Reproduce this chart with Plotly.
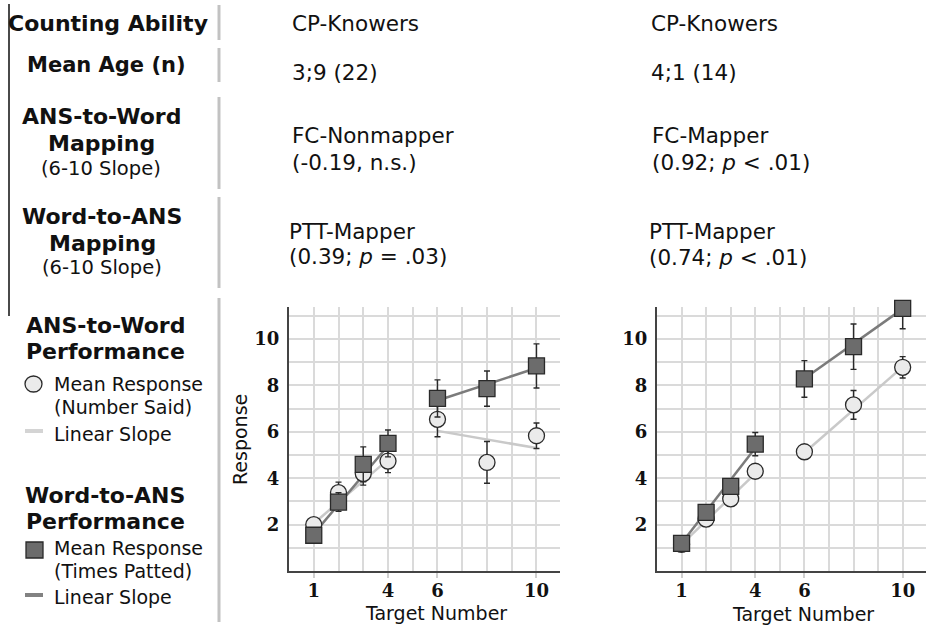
import plotly.graph_objects as go

W, H = 926, 627

# ---------------- data ----------------
x_pts = [1, 2, 3, 4, 6, 8, 10]

# Left group: CP-Knowers 3;9 (22)
L_circ = [2.0, 3.38, 4.2, 4.74, 6.54, 4.68, 5.83]
L_circ_err = [0.12, 0.45, 0.5, 0.5, 0.75, 0.9, 0.55]
L_sq = [1.54, 2.97, 4.6, 5.5, 7.44, 7.86, 8.84]
L_sq_err = [0.2, 0.4, 0.75, 0.58, 0.8, 0.76, 0.95]

# Right group: CP-Knowers 4;1 (14)
R_circ = [1.15, 2.24, 3.11, 4.3, 5.14, 7.16, 8.78]
R_circ_err = [0.1, 0.12, 0.12, 0.15, 0.3, 0.62, 0.46]
R_sq = [1.19, 2.53, 3.65, 5.47, 8.28, 9.67, 11.32]
R_sq_err = [0.12, 0.2, 0.2, 0.5, 0.79, 0.98, 0.88]

# Linear slope segments (endpoints)
fit_x_low = [1, 4]
fit_x_high = [6, 10]
L_circ_fit_low = [2.05, 4.8]
L_circ_fit_high = [6.04, 5.3]
L_sq_fit_low = [1.6, 5.4]
L_sq_fit_high = [7.35, 8.75]
R_circ_fit_low = [1.15, 4.2]
R_circ_fit_high = [5.1, 8.8]
R_sq_fit_low = [1.2, 5.3]
R_sq_fit_high = [8.3, 11.3]

x_ticks = [1, 4, 6, 10]
y_ticks = [2, 4, 6, 8, 10]

# ---------------- styles ----------------
CIRC_FILL = "#ebebeb"
SQ_FILL = "#6c6c6c"
EDGE = "#2a2a2a"
LIGHT_LINE = "#c9c9c9"
DARK_LINE = "#7b7b7b"
GRID = "#dadada"
SANS = "DejaVu Sans"


def px(x):
    return x / W


def py(y):
    return 1 - y / H


fig = go.Figure()


def add_panel(xa, ya, circ, circ_err, sq, sq_err, cfl, cfh, sfl, sfh):
    for xs, ys in [(fit_x_low, cfl), (fit_x_high, cfh)]:
        fig.add_trace(go.Scatter(x=xs, y=ys, mode="lines", xaxis=xa, yaxis=ya,
                                 line=dict(color=LIGHT_LINE, width=2.5),
                                 showlegend=False, hoverinfo="skip", cliponaxis=False))
    for xs, ys in [(fit_x_low, sfl), (fit_x_high, sfh)]:
        fig.add_trace(go.Scatter(x=xs, y=ys, mode="lines", xaxis=xa, yaxis=ya,
                                 line=dict(color=DARK_LINE, width=2.5),
                                 showlegend=False, hoverinfo="skip", cliponaxis=False))
    fig.add_trace(go.Scatter(
        x=x_pts, y=circ, mode="markers", xaxis=xa, yaxis=ya, cliponaxis=False,
        error_y=dict(type="data", array=circ_err, color=EDGE, thickness=1.4, width=3),
        marker=dict(symbol="circle", size=16, color=CIRC_FILL,
                    line=dict(color=EDGE, width=1.3)),
        showlegend=False))
    fig.add_trace(go.Scatter(
        x=x_pts, y=sq, mode="markers", xaxis=xa, yaxis=ya, cliponaxis=False,
        error_y=dict(type="data", array=sq_err, color=EDGE, thickness=1.4, width=3),
        marker=dict(symbol="square", size=16, color=SQ_FILL,
                    line=dict(color=EDGE, width=1.3)),
        showlegend=False))


add_panel("x", "y", L_circ, L_circ_err, L_sq, L_sq_err,
          L_circ_fit_low, L_circ_fit_high, L_sq_fit_low, L_sq_fit_high)
add_panel("x2", "y2", R_circ, R_circ_err, R_sq, R_sq_err,
          R_circ_fit_low, R_circ_fit_high, R_sq_fit_low, R_sq_fit_high)

tick_font = dict(family="DejaVu Serif", size=18, color="#111", weight="bold")


def xaxis_cfg(domain, anchor):
    return dict(domain=domain, anchor=anchor, range=[0, 10.95],
                tickvals=x_ticks, ticktext=[str(v) for v in x_ticks],
                tickfont=tick_font, showgrid=True, gridcolor=GRID, gridwidth=1.5,
                minor=dict(tick0=0, dtick=1, showgrid=True, gridcolor=GRID, gridwidth=1.5),
                showline=True, linecolor="#444", linewidth=2,
                ticks="outside", ticklen=5, tickcolor="#cfcfcf", tickwidth=1.5,
                ticklabelstandoff=-3,
                zeroline=False, fixedrange=True)


def yaxis_cfg(domain, anchor):
    return dict(domain=domain, anchor=anchor, range=[0, 11.38],
                tickvals=y_ticks, ticktext=[str(v) for v in y_ticks],
                tickfont=tick_font, showgrid=True, gridcolor=GRID, gridwidth=1.5,
                minor=dict(tick0=0, dtick=1, showgrid=True, gridcolor=GRID, gridwidth=1.5),
                showline=True, linecolor="#444", linewidth=2,
                ticks="", ticklabelstandoff=4,
                zeroline=False, fixedrange=True)


ydom = [py(571), py(307)]
fig.update_layout(
    width=W, height=H, autosize=False,
    margin=dict(l=0, r=0, t=0, b=0),
    paper_bgcolor="white", plot_bgcolor="white",
    xaxis=xaxis_cfg([px(289), px(560)], "y"),
    yaxis=yaxis_cfg(ydom, "x"),
    xaxis2=xaxis_cfg([px(657), 1.0], "y2"),
    yaxis2=yaxis_cfg(ydom, "x2"),
    showlegend=False,
)

ann = []


def text(x, y, s, size=20, bold=False, anchor="center", angle=0, color="#111"):
    ann.append(dict(x=px(x), y=py(y), xref="paper", yref="paper", text=s,
                    showarrow=False, xanchor=anchor, yanchor="middle", textangle=angle,
                    font=dict(family=SANS, size=size, color=color,
                              weight="bold" if bold else "normal")))


# Left header column
text(108, 23, "Counting Ability", 22, True)
text(106, 65, "Mean Age (n)", 21, True)
text(101, 116, "ANS-to-Word", 22, True)
text(101, 143, "Mapping", 22, True)
text(101, 168, "(6-10 Slope)", 19.5)
text(102, 216, "Word-to-ANS", 22, True)
text(102, 243, "Mapping", 22, True)
text(102, 267, "(6-10 Slope)", 19.5)

# Table columns
TS = 21.5
text(290, 23, "CP-Knowers", TS, anchor="left")
text(290, 73, "3;9 (22)", TS, anchor="left")
text(290, 136, "FC-Nonmapper", TS, anchor="left")
text(290, 162, "(-0.19, n.s.)", TS, anchor="left")
text(287, 231, "PTT-Mapper", TS, anchor="left")
text(287, 256, "(0.39; <i>p</i> = .03)", TS, anchor="left")

text(649, 23, "CP-Knowers", TS, anchor="left")
text(649, 73, "4;1 (14)", TS, anchor="left")
text(650, 136, "FC-Mapper", TS, anchor="left")
text(650, 162, "(0.92; <i>p</i> &lt; .01)", TS, anchor="left")
text(647, 231, "PTT-Mapper", TS, anchor="left")
text(647, 257, "(0.74; <i>p</i> &lt; .01)", TS, anchor="left")

# Legend column
text(105, 325, "ANS-to-Word", 22, True)
text(105, 351, "Performance", 22, True)
text(52, 384, "Mean Response", 19, anchor="left")
text(52, 407, "(Number Said)", 19, anchor="left")
text(52, 434, "Linear Slope", 19, anchor="left")
text(105, 495, "Word-to-ANS", 22, True)
text(105, 521, "Performance", 22, True)
text(52, 548, "Mean Response", 19, anchor="left")
text(52, 571, "(Times Patted)", 19, anchor="left")
text(52, 597, "Linear Slope", 19, anchor="left")

# Axis titles
text(240, 440, "Response", 19, angle=-90)
text(436, 613, "Target Number", 19)
text(803, 614, "Target Number", 19)

fig.update_layout(annotations=ann)

shapes = []


def vline(x, y0, y1, color, width):
    shapes.append(dict(type="line", xref="paper", yref="paper",
                       x0=px(x), x1=px(x), y0=py(y0), y1=py(y1),
                       line=dict(color=color, width=width)))


# left dark rule
vline(9, 4, 316, "#4a4a4a", 2)
# grey separators
for y0, y1 in [(5, 40), (48, 82), (97, 189), (197, 288), (298, 622)]:
    vline(219, y0, y1, "#c2c2c2", 3)

# legend glyphs
shapes.append(dict(type="circle", xref="paper", yref="paper",
                   x0=px(25), x1=px(42), y0=py(392), y1=py(376),
                   fillcolor=CIRC_FILL, line=dict(color=EDGE, width=1.3)))
shapes.append(dict(type="line", xref="paper", yref="paper",
                   x0=px(25), x1=px(43), y0=py(431), y1=py(431),
                   line=dict(color="#d4d4d4", width=4)))
shapes.append(dict(type="rect", xref="paper", yref="paper",
                   x0=px(26), x1=px(43), y0=py(558), y1=py(542),
                   fillcolor=SQ_FILL, line=dict(color=EDGE, width=1.3)))
shapes.append(dict(type="line", xref="paper", yref="paper",
                   x0=px(25), x1=px(43), y0=py(595), y1=py(595),
                   line=dict(color="#828282", width=4)))

fig.update_layout(shapes=shapes)

fig.write_html("out.html", config={"displayModeBar": False},
               post_script="document.body.style.margin='0px';document.body.style.overflow='hidden';")
